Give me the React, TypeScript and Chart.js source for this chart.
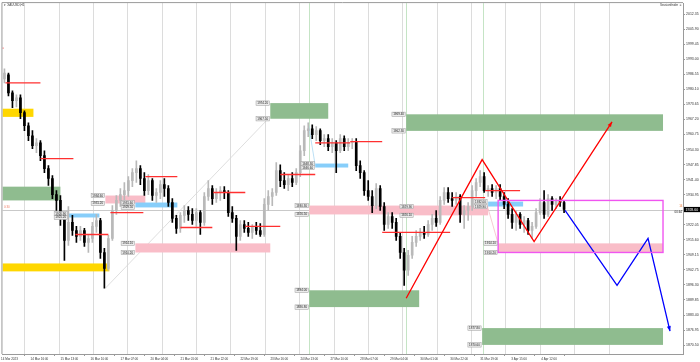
import React, { useEffect, useRef } from "react";
import { Chart, registerables } from "chart.js";

Chart.register(...registerables);

// ---------- DATA ----------
const opens = [
  1984.6, 1986.3, 1978.6, 1975.2, 1976.5, 1970.1, 1964.5, 1960.2, 1956.0, 1957.2,
  1951.7, 1946.1, 1941.9, 1935.0, 1932.5, 1924.8, 1915.4, 1923.1, 1919.6, 1917.1,
  1919.6, 1914.5, 1916.2, 1921.4, 1923.9, 1910.2, 1903.4, 1916.2, 1928.2, 1932.5,
  1935.0, 1936.7, 1941.0, 1944.4, 1946.1, 1941.9, 1936.7, 1941.0, 1934.6, 1935.9,
  1939.3, 1937.6, 1931.6, 1924.8, 1920.5, 1926.1, 1928.2, 1926.5, 1923.9, 1927.3,
  1923.1, 1934.2, 1937.6, 1933.3, 1935.9, 1936.7, 1935.9, 1927.3, 1924.8, 1917.1,
  1922.2, 1920.5, 1918.8, 1921.4, 1919.6, 1917.9, 1930.8, 1934.2, 1935.9, 1945.3,
  1941.0, 1939.3, 1941.9, 1940.2, 1944.4, 1953.8, 1962.4, 1963.2, 1960.7, 1962.4,
  1958.1, 1959.0, 1955.5, 1957.2, 1953.8, 1959.0, 1955.5, 1957.2, 1957.7, 1947.4,
  1944.4, 1936.7, 1934.2, 1930.3, 1937.6, 1929.9, 1922.2, 1925.6, 1923.1, 1917.1,
  1910.2, 1902.6, 1909.0, 1914.5, 1917.1, 1918.8, 1917.9, 1922.2, 1924.8, 1923.1,
  1932.5, 1935.9, 1933.3, 1932.5, 1934.2, 1926.5, 1928.2, 1929.9, 1936.7, 1940.2,
  1942.7, 1936.7, 1937.6, 1935.9, 1937.6, 1934.2, 1930.8, 1926.5, 1923.1, 1926.5,
  1922.2, 1923.9, 1919.6, 1921.4, 1927.3, 1931.6, 1926.5, 1933.3, 1930.8, 1932.5,
  1931.6,
];
const highs = [
  1988.9, 1987.1, 1979.5, 1977.7, 1977.7, 1970.9, 1965.8, 1962.4, 1959.0, 1958.1,
  1953.8, 1947.4, 1943.1, 1936.7, 1934.6, 1927.3, 1929.9, 1926.1, 1921.4, 1921.4,
  1920.5, 1917.5, 1923.1, 1926.5, 1924.8, 1912.0, 1917.5, 1930.3, 1934.6, 1937.6,
  1940.2, 1942.7, 1946.1, 1949.5, 1947.4, 1944.4, 1943.6, 1941.9, 1937.6, 1941.0,
  1941.9, 1938.9, 1933.3, 1926.1, 1927.3, 1930.3, 1929.9, 1929.0, 1929.0, 1928.2,
  1935.9, 1941.0, 1938.9, 1937.6, 1938.4, 1938.4, 1936.7, 1929.9, 1926.1, 1923.9,
  1923.9, 1923.1, 1922.2, 1923.1, 1922.6, 1933.3, 1936.7, 1937.6, 1948.7, 1947.8,
  1944.4, 1943.6, 1944.4, 1946.1, 1956.0, 1964.5, 1965.8, 1964.9, 1964.1, 1963.2,
  1960.7, 1960.7, 1959.0, 1958.1, 1960.7, 1960.2, 1959.0, 1959.0, 1959.0, 1949.5,
  1945.3, 1941.0, 1936.7, 1939.7, 1938.9, 1931.6, 1927.3, 1927.3, 1924.8, 1918.8,
  1912.0, 1911.1, 1917.1, 1919.6, 1920.5, 1921.4, 1923.9, 1926.5, 1928.2, 1934.2,
  1938.0, 1938.0, 1935.9, 1935.9, 1935.0, 1930.3, 1931.6, 1938.9, 1941.9, 1945.3,
  1944.4, 1938.9, 1939.3, 1938.9, 1939.3, 1935.9, 1933.3, 1929.0, 1928.2, 1927.3,
  1925.6, 1924.8, 1923.1, 1929.0, 1933.3, 1936.7, 1935.0, 1934.2, 1933.3, 1934.2,
  1932.5,
];
const lows = [
  1982.9, 1977.3, 1972.2, 1972.6, 1967.5, 1962.4, 1958.1, 1954.7, 1953.0, 1949.5,
  1944.4, 1938.9, 1933.3, 1928.2, 1921.8, 1906.8, 1913.2, 1917.5, 1914.5, 1915.4,
  1912.8, 1910.2, 1914.5, 1918.8, 1907.7, 1894.9, 1902.6, 1915.4, 1926.5, 1929.9,
  1932.5, 1934.2, 1938.4, 1940.2, 1939.3, 1934.6, 1935.0, 1932.5, 1931.6, 1933.3,
  1934.2, 1929.9, 1923.1, 1918.4, 1918.8, 1923.1, 1923.9, 1922.2, 1921.4, 1917.9,
  1921.8, 1932.5, 1930.8, 1931.6, 1932.5, 1933.3, 1925.6, 1923.1, 1911.1, 1915.4,
  1918.8, 1917.1, 1916.2, 1917.9, 1917.1, 1917.1, 1928.2, 1930.3, 1934.6, 1938.4,
  1937.6, 1936.7, 1938.4, 1939.3, 1942.7, 1951.7, 1959.8, 1959.0, 1958.1, 1956.4,
  1955.5, 1953.8, 1953.0, 1944.4, 1953.0, 1953.8, 1953.8, 1954.7, 1945.3, 1941.9,
  1934.6, 1932.5, 1927.3, 1929.0, 1928.2, 1919.6, 1920.5, 1920.5, 1915.4, 1907.7,
  1896.1, 1900.4, 1907.7, 1912.8, 1915.4, 1916.2, 1917.1, 1919.6, 1921.4, 1922.2,
  1930.8, 1931.6, 1929.9, 1930.8, 1923.1, 1920.5, 1923.9, 1928.2, 1934.2, 1938.4,
  1935.9, 1934.2, 1934.2, 1933.3, 1932.5, 1929.0, 1924.8, 1920.5, 1919.6, 1920.5,
  1918.8, 1917.9, 1916.2, 1920.5, 1926.5, 1924.8, 1925.6, 1928.2, 1929.0, 1929.9,
  1927.3,
];
const closes = [
  1987.1, 1978.6, 1975.2, 1976.5, 1970.1, 1964.5, 1960.2, 1956.0, 1957.2, 1951.7,
  1946.1, 1941.9, 1935.0, 1932.5, 1924.8, 1915.4, 1923.1, 1919.6, 1917.1, 1919.6,
  1914.5, 1916.2, 1921.4, 1923.9, 1910.2, 1903.4, 1916.2, 1928.2, 1932.5, 1935.0,
  1936.7, 1941.0, 1944.4, 1946.1, 1941.9, 1936.7, 1941.0, 1934.6, 1935.9, 1939.3,
  1937.6, 1931.6, 1924.8, 1920.5, 1926.1, 1928.2, 1926.5, 1923.9, 1927.3, 1923.1,
  1934.2, 1937.6, 1933.3, 1935.9, 1936.7, 1935.9, 1927.3, 1924.8, 1917.1, 1922.2,
  1920.5, 1918.8, 1921.4, 1919.6, 1917.9, 1930.8, 1934.2, 1935.9, 1945.3, 1941.0,
  1939.3, 1941.9, 1940.2, 1944.4, 1953.8, 1962.4, 1963.2, 1960.7, 1962.4, 1958.1,
  1959.0, 1955.5, 1957.2, 1953.8, 1959.0, 1955.5, 1957.2, 1957.7, 1947.4, 1944.4,
  1936.7, 1934.2, 1930.3, 1937.6, 1929.9, 1922.2, 1925.6, 1923.1, 1917.1, 1910.2,
  1902.6, 1909.0, 1914.5, 1917.1, 1918.8, 1917.9, 1922.2, 1924.8, 1923.1, 1932.5,
  1935.9, 1933.3, 1932.5, 1934.2, 1926.5, 1928.2, 1929.9, 1936.7, 1940.2, 1942.7,
  1936.7, 1937.6, 1935.9, 1937.6, 1934.2, 1930.8, 1926.5, 1923.1, 1926.5, 1922.2,
  1923.9, 1919.6, 1921.4, 1927.3, 1931.6, 1926.5, 1933.3, 1930.8, 1932.5, 1931.6,
  1928.6,
];

const yTickValues = [
  1870.5, 1876.95, 1883.4, 1889.85, 1896.3, 1902.75, 1909.15, 1915.6, 1922.05,
  1928.5, 1934.95, 1941.4, 1947.85, 1954.3, 1960.75, 1967.2, 1973.65, 1980.1,
  1986.55, 1993.0, 1999.45, 2005.9, 2012.35,
];
const xLabelPositions = [
  1.25, 8.75, 16.25, 23.75, 31.25, 38.75, 46.25, 53.75, 61.25, 68.75, 76.25,
  83.75, 91.25, 98.75, 106.25, 113.75, 121.25, 128.75, 136.25,
];
const xLabels = [
  "14 Mar 2023", "14 Mar 16:00", "15 Mar 13:00", "16 Mar 10:00", "17 Mar 07:00",
  "20 Mar 04:00", "21 Mar 01:00", "21 Mar 22:00", "22 Mar 19:00", "23 Mar 16:00",
  "24 Mar 13:00", "27 Mar 10:00", "28 Mar 07:00", "29 Mar 04:00", "30 Mar 01:00",
  "30 Mar 22:00", "31 Mar 19:00", "3 Apr 15:00", "4 Apr 12:00",
];
const gridPositions = [
  0.75, 9.35, 17.95, 26.55, 35.15, 43.75, 52.35, 60.95, 69.55, 78.15, 86.75,
  95.35, 103.95, 112.55, 121.15, 129.75, 138.35, 146.95,
];

// zones: [startBar, endBar, topPrice, bottomPrice, hasPriceTags]
const greenZones = [
  [-0.5, 14, 1938.4, 1932.5, 0],
  [66.5, 81, 1974.2, 1967.5, 1],
  [100.5, 164.75, 1969.4, 1962.3, 1],
  [76.25, 103.75, 1894.0, 1886.8, 1],
  [119.5, 164.75, 1877.8, 1870.6, 1],
];
const yellowZones = [
  [-0.5, 7.25, 1971.8, 1968.3, 0],
  [-0.5, 26.25, 1905.5, 1902.1, 0],
];
const pinkZones = [
  [25.25, 35.25, 1934.6, 1931.2, 1],
  [32.75, 66.5, 1914.1, 1910.2, 1],
  [76.25, 121, 1930.3, 1926.5, 1],
  [102.5, 121, 1929.9, 1926.1, 1],
  [123.5, 164.75, 1914.1, 1910.2, 1],
];
const blueZones = [
  [16, 23.75, 1926.9, 1925.2, 1],
  [32.75, 43.25, 1931.6, 1929.5, 1],
  [77.75, 86, 1948.3, 1946.6, 1],
  [121, 129.75, 1932.0, 1929.9, 1],
];
const rangeBox = [123.5, 164.75, 1932.5, 1910.2];

const levelStarts = [-0.5, 0.25, 9, 17.75, 26.5, 35.25, 44, 52.25, 60.25, 69, 77.75, 86.5, 94.5, 112, 120.25];
const levelEnds = [-0.25, 9, 17.25, 26, 34.75, 43.25, 52, 60.25, 69, 77.75, 86.5, 94.5, 111.5, 120.25, 129];
const levelPrices = [1997.8, 1982.9, 1950.4, 1917.9, 1927.3, 1942.7, 1920.9, 1935.9, 1921.4, 1943.6, 1957.2, 1957.7, 1918.8, 1933.7, 1936.7];

const redPathBars = [100.5, 119.5, 132.5, 152];
const redPathPrices = [1890.6, 1950.0, 1914.9, 1966.2];
const bluePathBars = [140.25, 153.25, 161, 166.5];
const bluePathPrices = [1928.2, 1896.1, 1916.2, 1876.5];

// faint helper lines: [bar0, price0, bar1, price1]
const faintLines = [
  [25.25, 1894.9, 66, 1967.5],
  [76, 1965.8, 77.75, 1947.4],
  [121, 1929.0, 123.5, 1914.1],
];
const faintLineColors = ["#d6d6d6", "#a9d7f2", "#f4bcc6"];
const markerBars = [76.25, 100.5, 119.75];

const X_MIN = -0.5;
const X_MAX = 169.75;
const Y_MIN = 1866.7;
const Y_MAX = 2017.05;

const FONT = "'Liberation Sans', Arial, sans-serif";
const BULL = "#b9b9b9";
const BEAR = "#000000";

function tag(ctx: CanvasRenderingContext2D, text: string, xRight: number, yc: number) {
  ctx.font = `3px ${FONT}`;
  const w = ctx.measureText(text).width + 2.4;
  const h = 4.4;
  ctx.fillStyle = "#ececec";
  ctx.fillRect(xRight - w, yc - h / 2, w, h);
  ctx.strokeStyle = "#9a9a9a";
  ctx.lineWidth = 0.5;
  ctx.strokeRect(xRight - w, yc - h / 2, w, h);
  ctx.fillStyle = "#222";
  ctx.textAlign = "right";
  ctx.textBaseline = "middle";
  ctx.fillText(text, xRight - 1.2, yc + 0.2);
}

function arrowHead(ctx: CanvasRenderingContext2D, x1: number, y1: number, x2: number, y2: number, color: string) {
  const a = Math.atan2(y2 - y1, x2 - x1);
  const L = 5;
  const W = 2;
  const c = Math.cos(a);
  const s = Math.sin(a);
  ctx.fillStyle = color;
  ctx.beginPath();
  ctx.moveTo(x2, y2);
  ctx.lineTo(x2 - L * c + W * s, y2 - L * s - W * c);
  ctx.lineTo(x2 - L * c - W * s, y2 - L * s + W * c);
  ctx.closePath();
  ctx.fill();
}

const overlayPlugin = {
  id: "overlay",
  beforeDatasetsDraw(chart: any) {
    const { ctx, chartArea: a } = chart;
    const x = chart.scales.x;
    const y = chart.scales.y;
    ctx.save();
    ctx.beginPath();
    ctx.rect(a.left, a.top, a.right - a.left, a.bottom - a.top);
    ctx.clip();

    ctx.strokeStyle = "rgba(150,205,150,0.55)";
    ctx.lineWidth = 1;
    markerBars.forEach((b) => {
      const px = Math.round(x.getPixelForValue(b)) + 0.5;
      ctx.beginPath();
      ctx.moveTo(px, a.top);
      ctx.lineTo(px, a.bottom);
      ctx.stroke();
    });

    const last = closes[closes.length - 1];
    const py = Math.round(y.getPixelForValue(last)) + 0.5;
    ctx.strokeStyle = "#c9c9c9";
    ctx.beginPath();
    ctx.moveTo(a.left, py);
    ctx.lineTo(a.right, py);
    ctx.stroke();

    faintLines.forEach((f, i) => {
      ctx.strokeStyle = faintLineColors[i];
      ctx.lineWidth = 0.8;
      ctx.beginPath();
      ctx.moveTo(x.getPixelForValue(f[0]), y.getPixelForValue(f[1]));
      ctx.lineTo(x.getPixelForValue(f[2]), y.getPixelForValue(f[3]));
      ctx.stroke();
    });

    const fillZones = (zones: number[][], color: string) => {
      ctx.fillStyle = color;
      zones.forEach((z) => {
        const x0 = x.getPixelForValue(z[0]);
        const x1 = x.getPixelForValue(z[1]);
        const y0 = y.getPixelForValue(z[2]);
        const y1 = y.getPixelForValue(z[3]);
        ctx.fillRect(x0, y0, x1 - x0, y1 - y0);
      });
    };
    fillZones(yellowZones, "#ffd700");
    fillZones(greenZones, "#8fbc8f");
    fillZones(pinkZones, "#f9bdc8");
    fillZones(blueZones, "#87cefa");
    ctx.restore();
  },
  afterDatasetsDraw(chart: any) {
    const { ctx } = chart;
    const x = chart.scales.x;
    const y = chart.scales.y;
    ctx.save();
    ctx.strokeStyle = "#f055f0";
    ctx.lineWidth = 1.4;
    const rx0 = x.getPixelForValue(rangeBox[0]);
    const rx1 = x.getPixelForValue(rangeBox[1]);
    const ry0 = y.getPixelForValue(rangeBox[2]);
    const ry1 = y.getPixelForValue(rangeBox[3]);
    ctx.strokeRect(rx0, ry0, rx1 - rx0, ry1 - ry0);

    const rn = redPathBars.length;
    arrowHead(
      ctx,
      x.getPixelForValue(redPathBars[rn - 2]), y.getPixelForValue(redPathPrices[rn - 2]),
      x.getPixelForValue(redPathBars[rn - 1]), y.getPixelForValue(redPathPrices[rn - 1]),
      "#ff0000"
    );
    const bn = bluePathBars.length;
    arrowHead(
      ctx,
      x.getPixelForValue(bluePathBars[bn - 2]), y.getPixelForValue(bluePathPrices[bn - 2]),
      x.getPixelForValue(bluePathBars[bn - 1]), y.getPixelForValue(bluePathPrices[bn - 1]),
      "#0000ff"
    );

    [greenZones, pinkZones, blueZones].forEach((zones) =>
      zones.forEach((z) => {
        if (!z[4]) return;
        const xr = x.getPixelForValue(z[0]) - 1;
        tag(ctx, z[2].toFixed(2), xr, y.getPixelForValue(z[2]));
        tag(ctx, z[3].toFixed(2), xr, y.getPixelForValue(z[3]));
      })
    );
    ctx.restore();
  },
  afterDraw(chart: any) {
    const { ctx, chartArea: a } = chart;
    const y = chart.scales.y;
    ctx.save();
    ctx.strokeStyle = "#9a9a9a";
    ctx.lineWidth = 1;
    ctx.beginPath();
    ctx.moveTo(a.left - 0.5, a.bottom);
    ctx.lineTo(a.left - 0.5, a.top - 0.5);
    ctx.lineTo(a.right, a.top - 0.5);
    ctx.stroke();

    const last = closes[closes.length - 1];
    const py = y.getPixelForValue(last);
    ctx.fillStyle = "#000";
    ctx.fillRect(a.right + 1, py - 2.6, 700 - a.right - 1, 5.2);
    ctx.fillStyle = "#fff";
    ctx.font = `3.5px ${FONT}`;
    ctx.textAlign = "left";
    ctx.textBaseline = "middle";
    ctx.fillText(last.toFixed(2), a.right + 2.5, py + 0.2);

    ctx.font = `3px ${FONT}`;
    ctx.textAlign = "right";
    ctx.fillStyle = "#f07830";
    ctx.fillText("14", a.right - 0.5, py - 3.5);
    ctx.fillStyle = "#222";
    ctx.fillText("00:44", a.right - 1, py + 2.2);

    ctx.textAlign = "left";
    ctx.fillStyle = "#f0806a";
    ctx.fillText("0:30", a.left + 1.5, py - 2.6);

    ctx.fillStyle = "#333";
    ctx.fillText("\u25BE XAUUSD,H1", a.left + 2, 5);
    ctx.textAlign = "right";
    ctx.fillText("Sessionfinder \u263A", a.right - 1, 5);
    ctx.restore();
  },
};

export default function App() {
  const ref = useRef<HTMLCanvasElement>(null);

  useEffect(() => {
    if (!ref.current) return;
    const idx = opens.map((_, i) => i);
    const colors = idx.map((i) => (closes[i] >= opens[i] ? BULL : BEAR));

    const levelData: any[] = [];
    levelPrices.forEach((p, i) => {
      levelData.push({ x: levelStarts[i], y: p });
      levelData.push({ x: levelEnds[i], y: p });
      levelData.push({ x: levelEnds[i], y: null });
    });

    const chart = new Chart(ref.current, {
      type: "bar",
      data: {
        datasets: [
          {
            type: "bar",
            label: "wick",
            data: idx.map((i) => ({ x: i, y: [lows[i], highs[i]] })) as any,
            backgroundColor: colors,
            borderWidth: 0,
            barThickness: 1,
            grouped: false,
            order: 5,
          } as any,
          {
            type: "bar",
            label: "body",
            data: idx.map((i) => ({ x: i, y: [opens[i], closes[i]] })) as any,
            backgroundColor: colors,
            borderWidth: 0,
            barThickness: 2,
            grouped: false,
            order: 4,
          } as any,
          {
            type: "line",
            label: "levels",
            data: levelData,
            borderColor: "#ff3030",
            borderWidth: 1.3,
            pointRadius: 0,
            spanGaps: false,
            order: 3,
          } as any,
          {
            type: "line",
            label: "red path",
            data: redPathBars.map((b, i) => ({ x: b, y: redPathPrices[i] })),
            borderColor: "#ff0000",
            borderWidth: 1.3,
            pointRadius: 0,
            order: 2,
          } as any,
          {
            type: "line",
            label: "blue path",
            data: bluePathBars.map((b, i) => ({ x: b, y: bluePathPrices[i] })),
            borderColor: "#0000ff",
            borderWidth: 1.3,
            pointRadius: 0,
            order: 1,
          } as any,
        ],
      },
      options: {
        responsive: false,
        maintainAspectRatio: false,
        animation: false,
        devicePixelRatio: 1,
        events: [],
        layout: { padding: { left: 2, top: 2, right: 0, bottom: 0 } },
        plugins: { legend: { display: false }, tooltip: { enabled: false } },
        scales: {
          x: {
            type: "linear",
            position: "bottom",
            min: X_MIN,
            max: X_MAX,
            offset: false,
            afterBuildTicks: (s: any) => {
              s.ticks = xLabelPositions.map((v) => ({ value: v }));
            },
            afterFit: (s: any) => {
              s.height = 8;
            },
            ticks: {
              autoSkip: false,
              maxRotation: 0,
              minRotation: 0,
              padding: 1,
              color: "#333",
              font: { size: 3, family: FONT },
              callback: (_v: any, i: number) => xLabels[i],
            },
            grid: { drawOnChartArea: false, drawTicks: true, tickLength: 2, color: "#999" },
            border: { display: true, color: "#9a9a9a" },
          },
          xg: {
            type: "linear",
            position: "top",
            min: X_MIN,
            max: X_MAX,
            offset: false,
            afterBuildTicks: (s: any) => {
              s.ticks = gridPositions.map((v) => ({ value: v }));
            },
            afterFit: (s: any) => {
              s.height = 0;
            },
            ticks: { display: false },
            grid: { drawOnChartArea: true, drawTicks: false, color: "#dcdcdc", lineWidth: 1 },
            border: { display: false },
          },
          y: {
            type: "linear",
            position: "right",
            min: Y_MIN,
            max: Y_MAX,
            afterBuildTicks: (s: any) => {
              s.ticks = yTickValues.map((v) => ({ value: v }));
            },
            afterFit: (s: any) => {
              s.width = 17;
            },
            ticks: {
              padding: 1,
              color: "#333",
              font: { size: 3.5, family: FONT },
              callback: (v: any) => Number(v).toFixed(2),
            },
            grid: { drawOnChartArea: false, drawTicks: true, tickLength: 2, color: "#999" },
            border: { display: true, color: "#9a9a9a" },
          },
        } as any,
      },
      plugins: [overlayPlugin],
    } as any);

    return () => chart.destroy();
  }, []);

  return (
    <div style={{ position: "fixed", left: 0, top: 0, width: 700, height: 362, background: "#fff" }}>
      <canvas ref={ref} width={700} height={362} style={{ display: "block", width: 700, height: 362 }} />
    </div>
  );
}
